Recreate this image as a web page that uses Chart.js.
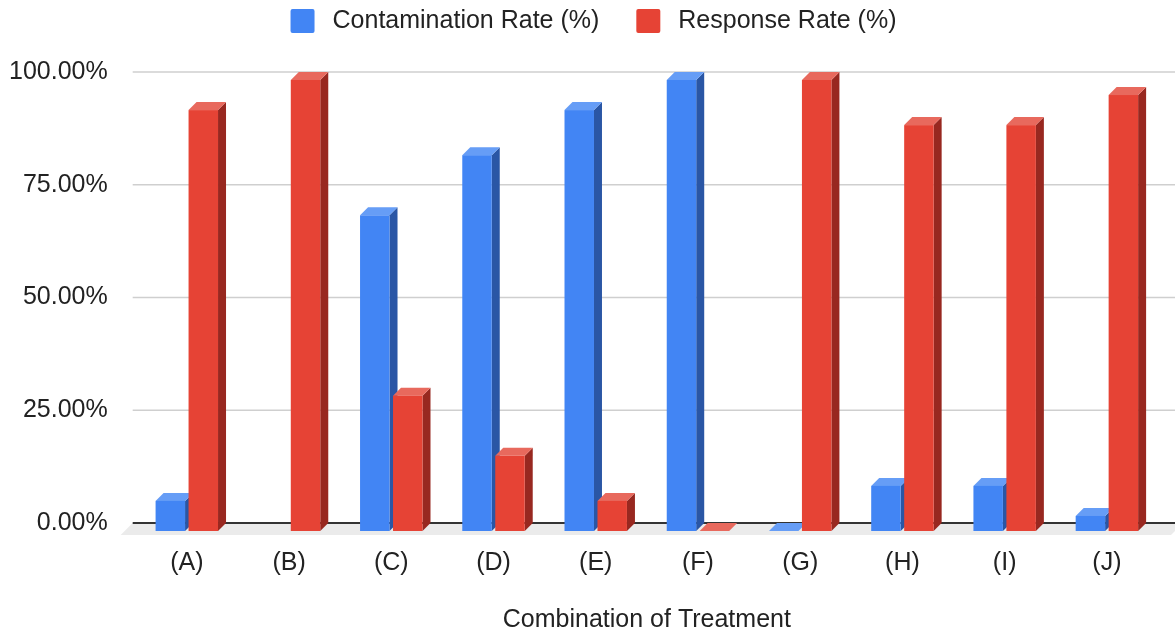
<!DOCTYPE html>
<html>
<head>
<meta charset="utf-8">
<script src="https://cdn.jsdelivr.net/npm/chart.js@4"></script>
<style>
  body { margin: 0; background: #fff; }
  #wrap { width: 1175px; height: 633px; }
</style>
</head>
<body>
<div id="wrap"><canvas id="chart"></canvas></div>
<script>
// === data ===
const categories = ['(A)', '(B)', '(C)', '(D)', '(E)', '(F)', '(G)', '(H)', '(I)', '(J)'];
const contaminationRate = [6.67, null, 70, 83.33, 93.33, 100, 0, 10, 10, 3.33];
const responseRate = [93.33, 100, 30, 16.67, 6.67, 0, 100, 90, 90, 96.67];
const yTicks = [0, 25, 50, 75, 100];

const FONT = '"Liberation Sans", Arial, sans-serif';
const TEXT = '#222';

// front / top / side shades for each series
const shades = [
  { front: '#4285f4', top: '#669df6', side: '#2a56a5' },
  { front: '#e64335', top: '#e8695d', side: '#982820' }
];
const DEPTH = 8;

// fake 3D bars (Google Sheets look)
const threeD = {
  id: 'threeD',
  beforeDatasetsDraw(chart) {
    const { ctx, chartArea, scales: { y } } = chart;
    const y0 = y.getPixelForValue(0);
    ctx.save();

    // floor
    ctx.fillStyle = '#ebebeb';
    ctx.beginPath();
    ctx.moveTo(chartArea.left - 3, y0);
    ctx.lineTo(chart.width + 8, y0);
    ctx.lineTo(chart.width - 4, y0 + 12);
    ctx.lineTo(chartArea.left - 15, y0 + 12);
    ctx.closePath();
    ctx.fill();

    // grid lines on the back wall
    yTicks.forEach(v => {
      const py = y.getPixelForValue(v);
      ctx.beginPath();
      ctx.lineWidth = v === 0 ? 2 : 1.6;
      ctx.strokeStyle = v === 0 ? '#333' : '#cfcfcf';
      ctx.moveTo(chartArea.left - 3, py);
      ctx.lineTo(chart.width, py);
      ctx.stroke();
    });

    // bars, category by category so the later series covers the earlier side face
    categories.forEach((_, i) => {
      chart.data.datasets.forEach((ds, d) => {
        if (ds.data[i] === null) return;
        const el = chart.getDatasetMeta(d).data[i];
        const { x, y: top, base, width } = el.getProps(['x', 'y', 'base', 'width'], true);
        const x0 = x - width / 2, x1 = x + width / 2;
        const yt = top + DEPTH, yb = base + DEPTH;
        const c = shades[d];

        // side
        ctx.fillStyle = c.side;
        ctx.beginPath();
        ctx.moveTo(x1, yt);
        ctx.lineTo(x1 + DEPTH, yt - DEPTH);
        ctx.lineTo(x1 + DEPTH, yb - DEPTH);
        ctx.lineTo(x1, yb);
        ctx.closePath();
        ctx.fill();

        // top
        ctx.fillStyle = c.top;
        ctx.beginPath();
        ctx.moveTo(x0, yt);
        ctx.lineTo(x1, yt);
        ctx.lineTo(x1 + DEPTH, yt - DEPTH);
        ctx.lineTo(x0 + DEPTH, yt - DEPTH);
        ctx.closePath();
        ctx.fill();

        // front
        ctx.fillStyle = c.front;
        ctx.fillRect(x0, yt, width, yb - yt);
      });
    });

    ctx.restore();
    return false;
  },
  afterDraw(chart) {
    // legend on top
    const { ctx } = chart;
    ctx.save();
    ctx.font = '25px ' + FONT;
    ctx.textBaseline = 'middle';
    const box = 24, gap = 18, spacing = 37;
    const items = chart.data.datasets.map((ds, d) => ({
      label: ds.label,
      color: shades[d].front,
      w: box + gap + ctx.measureText(ds.label).width
    }));
    const total = items.reduce((s, it) => s + it.w, 0) + spacing * (items.length - 1);
    let x = chart.width / 2 + 6 - total / 2;
    items.forEach(it => {
      ctx.fillStyle = it.color;
      ctx.beginPath();
      ctx.roundRect(x, 9, box, box, 2);
      ctx.fill();
      ctx.fillStyle = TEXT;
      ctx.fillText(it.label, x + box + gap, 21);
      x += it.w + spacing;
    });
    ctx.restore();
  }
};

new Chart(document.getElementById('chart'), {
  type: 'bar',
  data: {
    labels: categories,
    datasets: [
      { label: 'Contamination Rate (%)', data: contaminationRate, backgroundColor: shades[0].front },
      { label: 'Response Rate (%)', data: responseRate, backgroundColor: shades[1].front }
    ]
  },
  options: {
    responsive: true,
    maintainAspectRatio: false,
    animation: false,
    categoryPercentage: 0.645,
    barPercentage: 0.894,
    layout: { padding: { top: 72, left: 9, right: 17, bottom: 0 } },
    plugins: { legend: { display: false }, tooltip: { enabled: false } },
    scales: {
      x: {
        grid: { display: false, drawTicks: false },
        border: { display: false },
        ticks: { color: TEXT, font: { family: FONT, size: 25 }, padding: 25 },
        title: {
          display: true,
          text: 'Combination of Treatment',
          color: TEXT,
          font: { family: FONT, size: 25, lineHeight: 1 },
          padding: { top: 30, bottom: 0 }
        },
        // chart.js counts tick padding twice when sizing the axis
        afterFit: s => { s.height -= s.options.ticks.padding; }
      },
      y: {
        min: 0,
        max: 100,
        grid: { display: false, drawTicks: false },
        border: { display: false },
        ticks: {
          stepSize: 25,
          color: TEXT,
          font: { family: FONT, size: 25 },
          padding: 28,
          callback: v => v.toFixed(2) + '%'
        },
        afterFit: s => { s.width -= s.options.ticks.padding; }
      }
    }
  },
  plugins: [threeD]
});
</script>
</body>
</html>
